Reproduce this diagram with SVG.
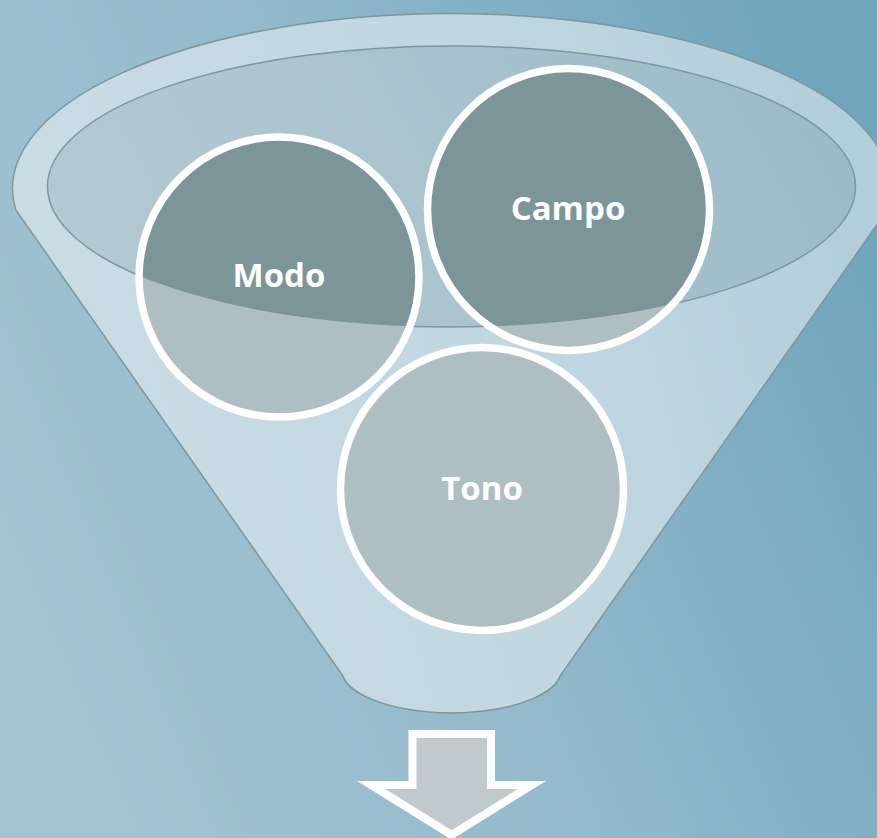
<svg xmlns="http://www.w3.org/2000/svg" width="877" height="838" viewBox="0 0 877 838">
  <defs>
    <linearGradient id="bg" x1="0" y1="0.7" x2="1" y2="0.3">
      <stop offset="0" stop-color="#A3C4D3"/>
      <stop offset="0.5" stop-color="#92B9CA"/>
      <stop offset="1" stop-color="#70A5BC"/>
    </linearGradient>
    <linearGradient id="funnelFill" x1="0" y1="0.6" x2="1" y2="0.4">
      <stop offset="0" stop-color="#C9DDE4"/>
      <stop offset="0.6" stop-color="#C0D7E0"/>
      <stop offset="1" stop-color="#B2CEDA"/>
    </linearGradient>
    <linearGradient id="mouthFill" x1="0" y1="0.6" x2="1" y2="0.4">
      <stop offset="0" stop-color="#B3C9D1"/>
      <stop offset="0.5" stop-color="#A9C3CD"/>
      <stop offset="1" stop-color="#9BBAC7"/>
    </linearGradient>
    <clipPath id="mouthClip">
      <ellipse cx="451.5" cy="186.5" rx="404" ry="140.5"/>
    </clipPath>
    <style>
      .outline { stroke: #7E979C; stroke-width: 1.5; }
      .ball { fill: #AEBEC1; }
      .ballDark { fill: #7B9599; }
      .ring { fill: none; stroke: #FFFFFF; stroke-width: 7.5; }
      .label { font-family: "Open Sans", "Liberation Sans", sans-serif; font-weight: 700; font-size: 33px; fill: #FFFFFF; text-anchor: middle; }
    </style>
  </defs>

  <!-- background -->
  <rect x="0" y="0" width="877" height="838" fill="url(#bg)"/>

  <!-- funnel body and mouth -->
  <g id="funnel">
    <path class="outline" fill="url(#funnelFill)"
          d="M 15.8 210 A 439 175 0 1 1 887.2 210 L 560 676 C 556 690, 523 712, 451.5 713 C 380 712, 347 690, 343 676 Z"/>
    <ellipse class="outline" cx="451.5" cy="186.5" rx="404" ry="140.5" fill="url(#mouthFill)"/>
  </g>

  <!-- balls: light body, darker part seen through the mouth -->
  <g id="modo">
    <circle class="ball" cx="279" cy="277" r="140"/>
    <circle class="ballDark" cx="279" cy="277" r="140" clip-path="url(#mouthClip)"/>
    <circle class="ring" cx="279" cy="277" r="140"/>
    <text class="label" x="279" y="287">Modo</text>
  </g>

  <g id="campo">
    <circle class="ball" cx="568.5" cy="209.5" r="141"/>
    <circle class="ballDark" cx="568.5" cy="209.5" r="141" clip-path="url(#mouthClip)"/>
    <circle class="ring" cx="568.5" cy="209.5" r="141"/>
    <text class="label" x="568" y="220">Campo</text>
  </g>

  <g id="tono">
    <circle class="ball" cx="482" cy="489" r="141.5"/>
    <circle class="ring" cx="482" cy="489" r="141.5"/>
    <text class="label" x="482" y="500">Tono</text>
  </g>

  <!-- output arrow -->
  <g id="connectors">
    <path d="M 412.5 734 L 491 734 L 491 785 L 532 785 L 451.5 835 L 371 785 L 412.5 785 Z"
          fill="#C0C9CC" stroke="#FFFFFF" stroke-width="8" stroke-linejoin="miter"/>
  </g>
</svg>
